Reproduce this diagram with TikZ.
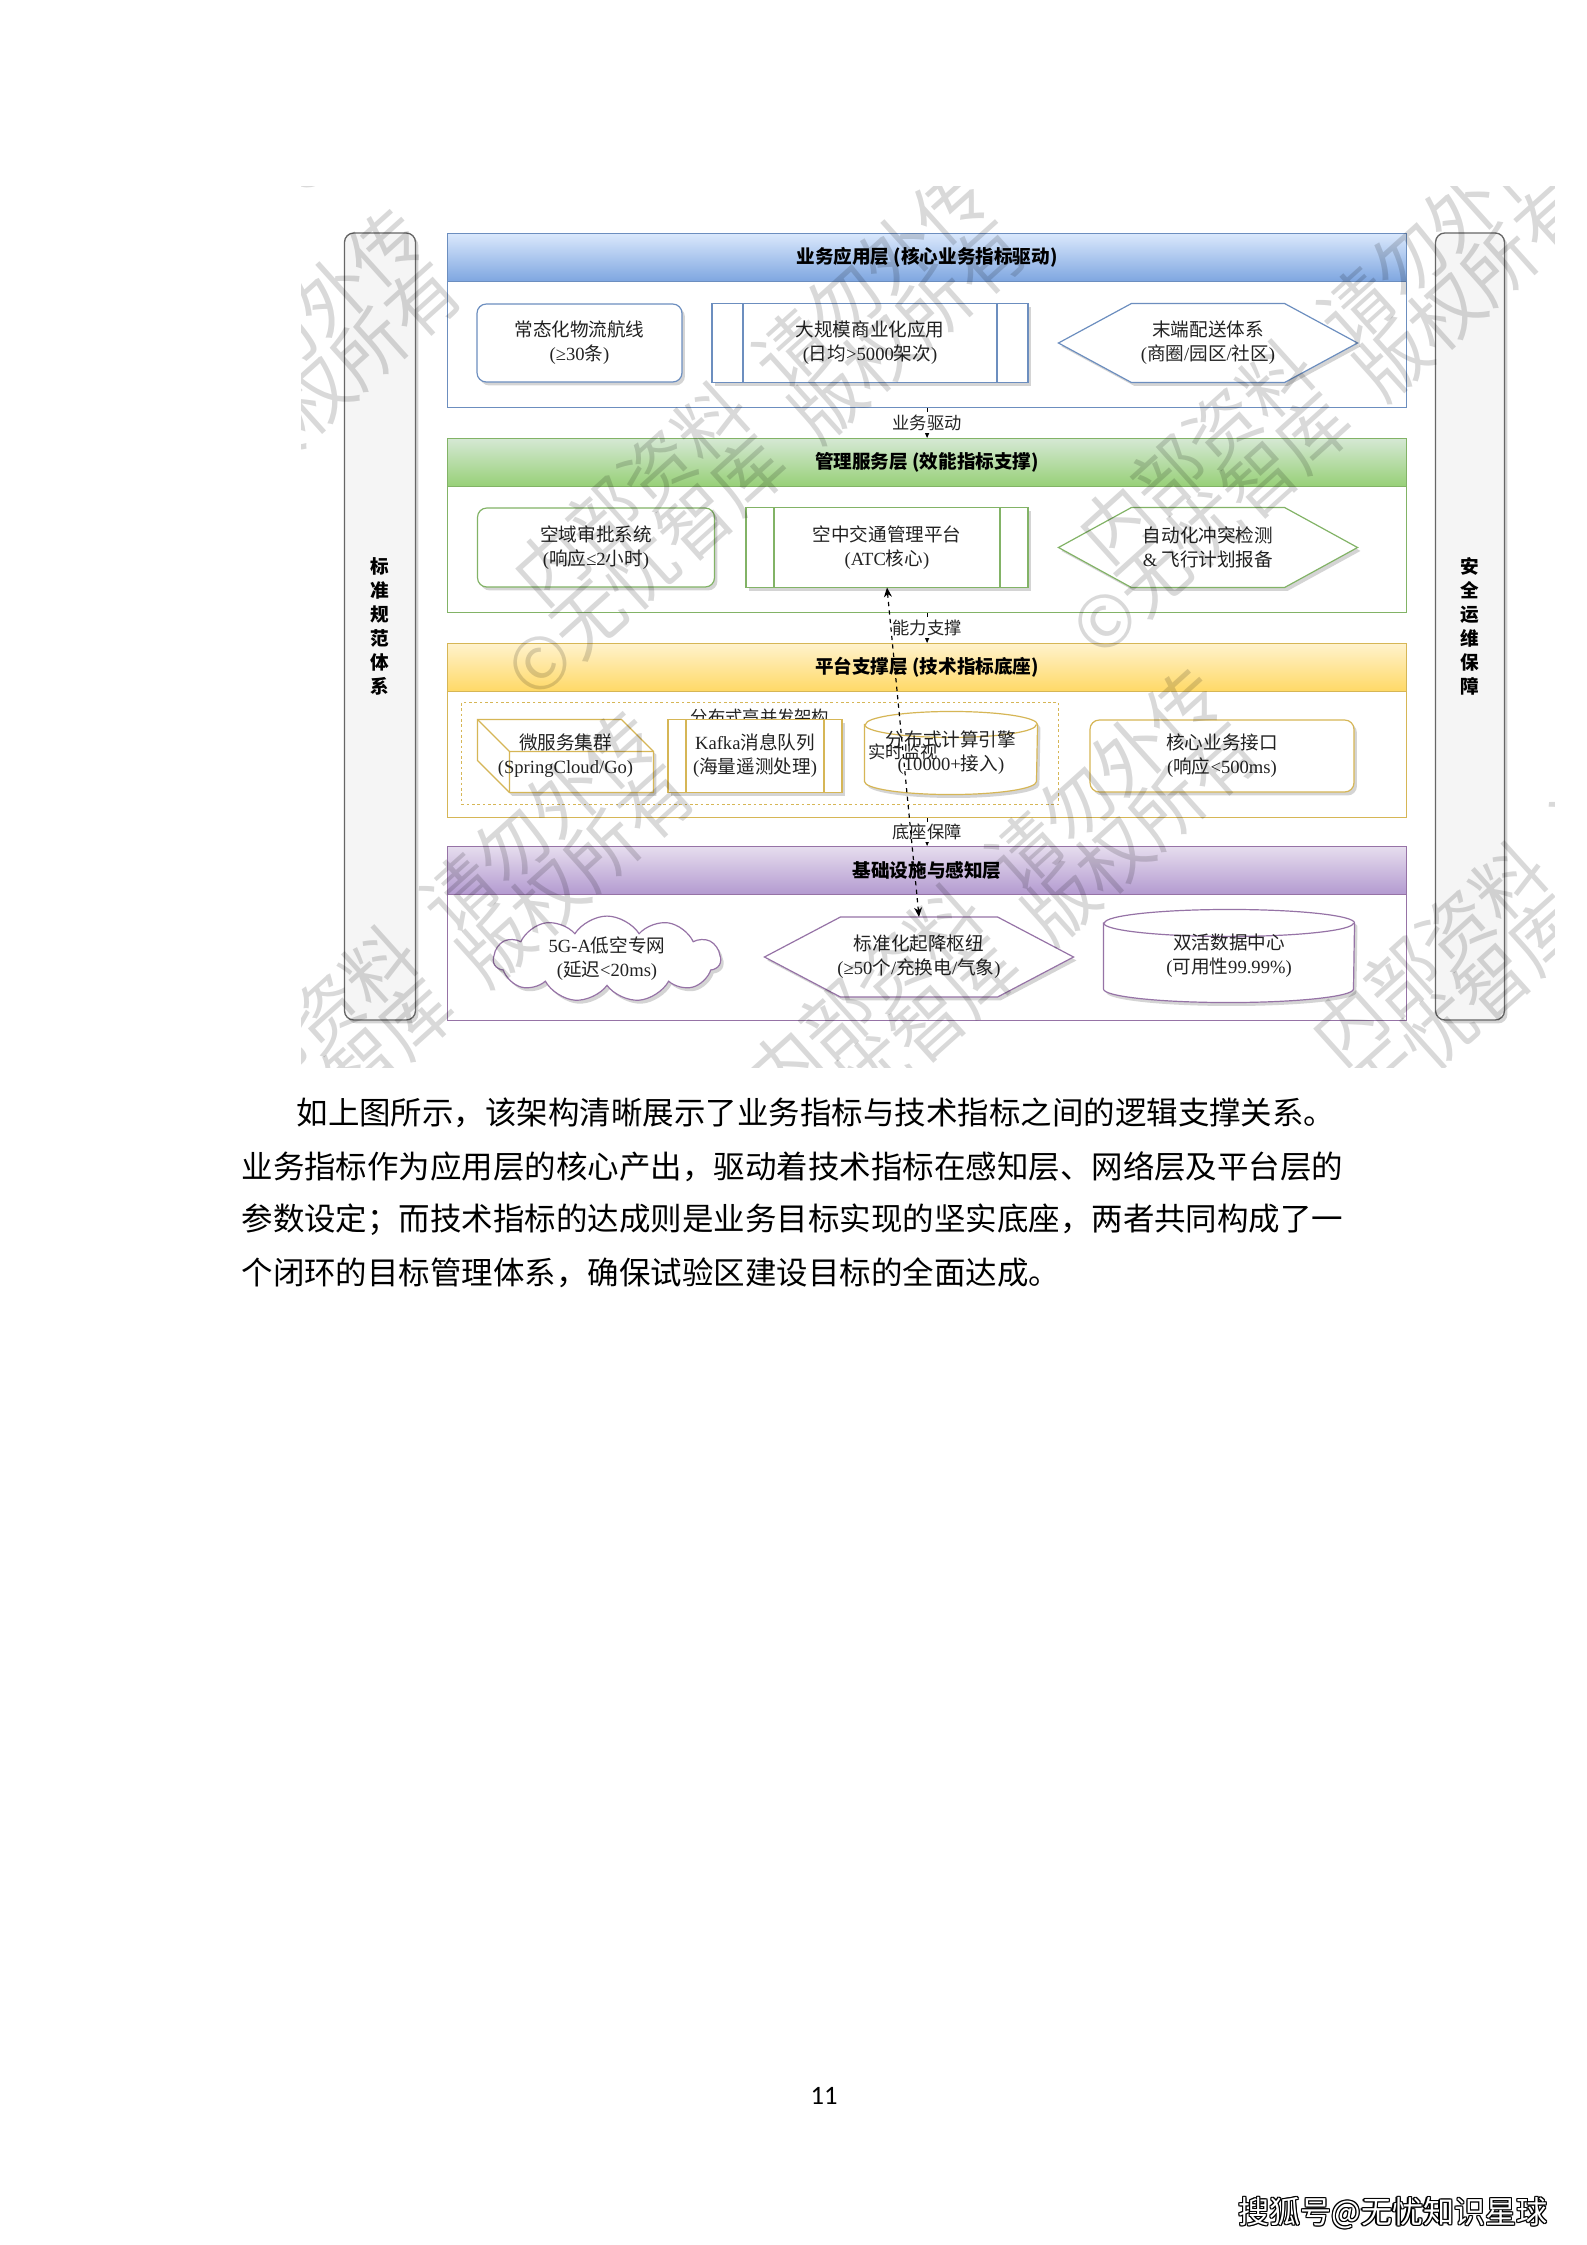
\documentclass[tikz,border=0pt]{standalone}
\usepackage{fontspec}
\setmainfont{Noto Sans CJK SC}
\newfontfamily\tnr{Liberation Serif}
\newfontfamily\pgnum{Carlito}
\usetikzlibrary{shapes.symbols,shadows,arrows.meta}
\pgfdeclarelayer{lay0}\pgfdeclarelayer{lay1}\pgfdeclarelayer{bgl}\pgfsetlayers{bgl,lay0,lay1,main}
\newdimen\upx \upx=0.013231cm
\newcommand\en[1]{{\tnr #1}}
\definecolor{bB}{HTML}{6C8EBF}\definecolor{bT}{HTML}{DAE8FC}\definecolor{bD}{HTML}{7EA6E0}
\definecolor{gB}{HTML}{82B366}\definecolor{gT}{HTML}{D5E8D4}\definecolor{gD}{HTML}{97D077}
\definecolor{yB}{HTML}{D6B656}\definecolor{yT}{HTML}{FFF2CC}\definecolor{yD}{HTML}{FFD966}
\definecolor{pB}{HTML}{9673A6}\definecolor{pT}{HTML}{E6DDEE}\definecolor{pD}{HTML}{B39AD0}
\definecolor{sideF}{HTML}{F5F5F5}\definecolor{sideB}{HTML}{666666}
\definecolor{txt}{HTML}{222222}
\tikzset{
  shad/.style={drop shadow={shadow xshift=1.1pt, shadow yshift=-1.3pt, opacity=0.28, fill=black!60}},
  sz/.style 2 args={minimum width=#1*\upx, minimum height=#2*\upx},
  it/.style={font=\fontsize{7}{9}\selectfont, align=center, inner sep=0pt, text=txt},
  hdr/.style={font=\fontsize{7}{9}\selectfont\bfseries, inner sep=0pt, anchor=north west},
  lay/.style={fill=white, inner sep=0pt, anchor=north west, line width=0.45pt},
  rbox/.style={it, rounded corners=3.5pt, fill=white, shad, line width=0.45pt},
  conn/.style={draw=black, line width=0.45pt, dash pattern=on 1.6pt off 1.6pt, -{Stealth[length=3pt,width=2.6pt]}},
  clbl/.style={font=\fontsize{6.5}{8}\selectfont, fill=white, inner sep=0.6pt, text=txt},
  side/.style={draw=sideB, fill=sideF, rounded corners=3.5pt, line width=0.5pt, shad, inner sep=0pt,
    font=\fontsize{7}{9}\selectfont\bfseries, align=center},
  wmark/.style={font=\fontsize{27}{30}\selectfont, text=black, text opacity=0.15, rotate=42, anchor=west, inner sep=0pt},
}
\newcommand\hexshape[3]{%
  \begin{pgfonlayer}{lay1}
  \draw[#3, fill=white, shad, line width=0.45pt] (#1.west) -- ([xshift=#2*\upx]#1.north west) -- ([xshift=-#2*\upx]#1.north east) -- (#1.east) -- ([xshift=-#2*\upx]#1.south east) -- ([xshift=#2*\upx]#1.south west) -- cycle;
  \end{pgfonlayer}}
\newcommand\procshape[3]{%
  \begin{pgfonlayer}{lay1}
  \draw[#3, fill=white, shad, line width=0.45pt] (#1.north west) rectangle (#1.south east);
  \draw[#3, line width=0.45pt] ([xshift=#2*\upx]#1.north west) -- ([xshift=#2*\upx]#1.south west)
     ([xshift=-#2*\upx]#1.north east) -- ([xshift=-#2*\upx]#1.south east);
  \end{pgfonlayer}}
\newcommand\cylshape[4]{%
  \begin{pgfonlayer}{lay1}
  \draw[#4, fill=white, shad, line width=0.45pt] ([yshift=-#3*\upx]#1.north west) -- ([yshift=#3*\upx]#1.south west)
     arc[start angle=180, end angle=360, x radius=#2*\upx, y radius=#3*\upx] -- ([yshift=-#3*\upx]#1.north east)
     arc[start angle=0, end angle=180, x radius=#2*\upx, y radius=#3*\upx] -- cycle;
  \draw[#4, line width=0.45pt] ([yshift=-#3*\upx]#1.north west) arc[start angle=180, end angle=360, x radius=#2*\upx, y radius=#3*\upx];
  \end{pgfonlayer}}
\newcommand\cubeshape[3]{%
  \begin{pgfonlayer}{lay1}
  \draw[#3, fill=white, shad, line width=0.45pt] (#1.north west) -- ([xshift=-#2*\upx]#1.north east) -- ([yshift=-#2*\upx]#1.north east)
     -- (#1.south east) -- ([xshift=#2*\upx]#1.south west) -- ([yshift=#2*\upx]#1.south west) -- cycle;
  \draw[#3, line width=0.45pt] (#1.north west) -- ([xshift=#2*\upx, yshift=-#2*\upx]#1.north west) -- ([yshift=-#2*\upx]#1.north east)
     ([xshift=#2*\upx, yshift=-#2*\upx]#1.north west) -- ([xshift=#2*\upx]#1.south west);
  \end{pgfonlayer}}
\begin{document}
\begin{tikzpicture}[x=0.013231cm, y=-0.013231cm]
\useasboundingbox (0,0) rectangle (1587,2245);
\begin{pgfonlayer}{bgl}
\fill[white] (0,0) rectangle (1587,2245);
\end{pgfonlayer}

% side bars
\node[side, sz={71}{787}] (sL) at (380,626.5) {标\\准\\规\\范\\体\\系};
\node[side, sz={69}{787}] (sR) at (1470,626.5) {安\\全\\运\\维\\保\\障};

% layer containers
\begin{pgfonlayer}{lay0}
\node[lay, draw=bB, sz={959}{174}] (L1) at (447,233) {};
\node[lay, draw=gB, sz={959}{174}] (L2) at (447,438) {};
\node[lay, draw=yB, sz={959}{174}] (L3) at (447,643) {};
\node[lay, draw=pB, sz={959}{174}] (L4) at (447,846) {};
\node[draw=yB, dash pattern=on 1pt off 1pt, line width=0.3pt, sz={597}{102}, inner sep=0pt] (c0) at (760,753.5) {};
\node[font=\fontsize{6.5}{8}\selectfont, text=txt, inner sep=0pt] (c0t) at (760,717) {分布式高并发架构};
\end{pgfonlayer}

% headers
\node[hdr, draw=bB, top color=bT, bottom color=bD, sz={959}{48}] (H1) at (447,233) {业务应用层 (核心业务指标驱动)};
\node[hdr, draw=gB, top color=gT, bottom color=gD, sz={959}{48}] (H2) at (447,438) {管理服务层 (效能指标支撑)};
\node[hdr, draw=yB, top color=yT, bottom color=yD, sz={959}{48}] (H3) at (447,643) {平台支撑层 (技术指标底座)};
\node[hdr, draw=pB, top color=pT, bottom color=pD, sz={959}{48}] (H4) at (447,846) {基础设施与感知层};

% layer 1
\node[rbox, draw=bB, sz={205}{78}] (a1) at (579.5,343) {常态化物流航线\\\en{(≥30}条\en{)}};
\node[it, sz={315}{78}] (a2) at (870,343) {大规模商业化应用\\\en{(}日均\en{>5000}架次\en{)}};
\procshape{a2}{31}{draw=bB}
\node[it, sz={298}{78}] (a3) at (1208,343) {末端配送体系\\\en{(}商圈\en{/}园区\en{/}社区\en{)}};
\hexshape{a3}{73}{draw=bB}

% layer 2
\node[rbox, draw=gB, sz={237}{79}] (b1) at (596,547.5) {空域审批系统\\\en{(}响应\en{≤2}小时\en{)}};
\node[it, sz={281}{79}] (b2) at (887,547.5) {空中交通管理平台\\\en{(ATC}核心\en{)}};
\procshape{b2}{28}{draw=gB}
\node[it, sz={298}{79}] (b3) at (1208,547.5) {自动化冲突检测\\\en{\&} 飞行计划报备};
\hexshape{b3}{73}{draw=gB}

% layer 3
\node[it, sz={175}{72}] (c1) at (565.5,756) {微服务集群\\\en{(SpringCloud/Go)}};
\cubeshape{c1}{32}{draw=yB}
\node[it, sz={173}{72}] (c2) at (755,756) {\en{Kafka}消息队列\\\en{(}海量遥测处理\en{)}};
\procshape{c2}{18}{draw=yB}
\node[it, sz={172}{82}] (c3) at (951,753) {分布式计算引擎\\\en{(10000+}接入\en{)}};
\cylshape{c3}{86}{13}{draw=yB}
\node[rbox, draw=yB, sz={264}{72}] (c4) at (1222,756) {核心业务接口\\\en{(}响应\en{<500ms)}};

% layer 4
\node[it, cloud, cloud puffs=11, cloud puff arc=115, aspect=2.8, draw=pB, fill=white, shad, line width=0.45pt, sz={227}{82}] (d1) at (607,959) {\en{5G-A}低空专网\\\en{(}延迟\en{<20ms)}};
\node[it, sz={308}{79}] (d2) at (919,957) {标准化起降枢纽\\\en{(≥50}个\en{/}充换电\en{/}气象\en{)}};
\hexshape{d2}{76}{draw=pB}
\node[it, sz={250}{92}] (d3) at (1229,956) {双活数据中心\\\en{(}可用性\en{99.99\%)}};
\cylshape{d3}{125}{13.5}{draw=pB}

% connectors
\draw[conn] (L1.south) -- node[clbl] (k1) {业务驱动} (L2.north);
\draw[conn] (L2.south) -- node[clbl] (k2) {能力支撑} (L3.north);
\draw[conn] (L3.south) -- node[clbl] (k3) {底座保障} (L4.north);
\draw[draw=black, line width=0.45pt, dash pattern=on 1.6pt off 1.6pt, {Stealth[length=3.6pt,width=3pt]}-{Stealth[length=3.6pt,width=3pt]}]
  (b2.south) -- node[font=\fontsize{6.5}{8}\selectfont, text=txt, inner sep=0pt] (k4) {实时监视} (d2.north);

% diagonal watermark over the figure
\begin{scope}
\clip (301,186) rectangle (1554,1067);
\foreach \i in {-2,...,3}{
  \foreach \j in {-2,...,2}{
    \node[wmark] (wa\i\j) at (-14+\i*565+\j*233-27.5, 607-\i*42+\j*502+24.8) {内部资料\hspace{0.5em}请勿外传};
    \node[wmark] (wb\i\j) at (-14+\i*565+\j*233-34.5, 607-\i*42+\j*502+117.2) {©无忧智库\hspace{0.5em}版权所有};
  }
}
\end{scope}

% paragraph
\begin{scope}[every node/.style={anchor=west, inner sep=0pt, font=\fontsize{11.85}{14}\selectfont}]
\node (p1) at (296,1113) {如上图所示，该架构清晰展示了业务指标与技术指标之间的逻辑支撑关系。};
\node (p2) at (241,1167) {业务指标作为应用层的核心产出，驱动着技术指标在感知层、网络层及平台层的};
\node (p3) at (241,1220) {参数设定；而技术指标的达成则是业务目标实现的坚实底座，两者共同构成了一};
\node (p4) at (241,1273) {个闭环的目标管理体系，确保试验区建设目标的全面达成。};
\end{scope}

\node[font=\pgnum\fontsize{10}{12}\selectfont, inner sep=0pt] (pg) at (824,2096) {11};

% source mark
\foreach \dx/\dy [count=\i] in {-1.3/0,1.3/0,0/-1.3,0/1.3,-1/1,1/1,-1/-1,1/-1}{
  \node[font=\fontsize{11.7}{13}\selectfont, text=black, inner sep=0pt] (wm\i) at (1393+\dx,2213+\dy) {搜狐号@无忧知识星球};
}
\node[font=\fontsize{11.7}{13}\selectfont, text=white, inner sep=0pt] (wm) at (1393,2213) {搜狐号@无忧知识星球};
\end{tikzpicture}
\end{document}
